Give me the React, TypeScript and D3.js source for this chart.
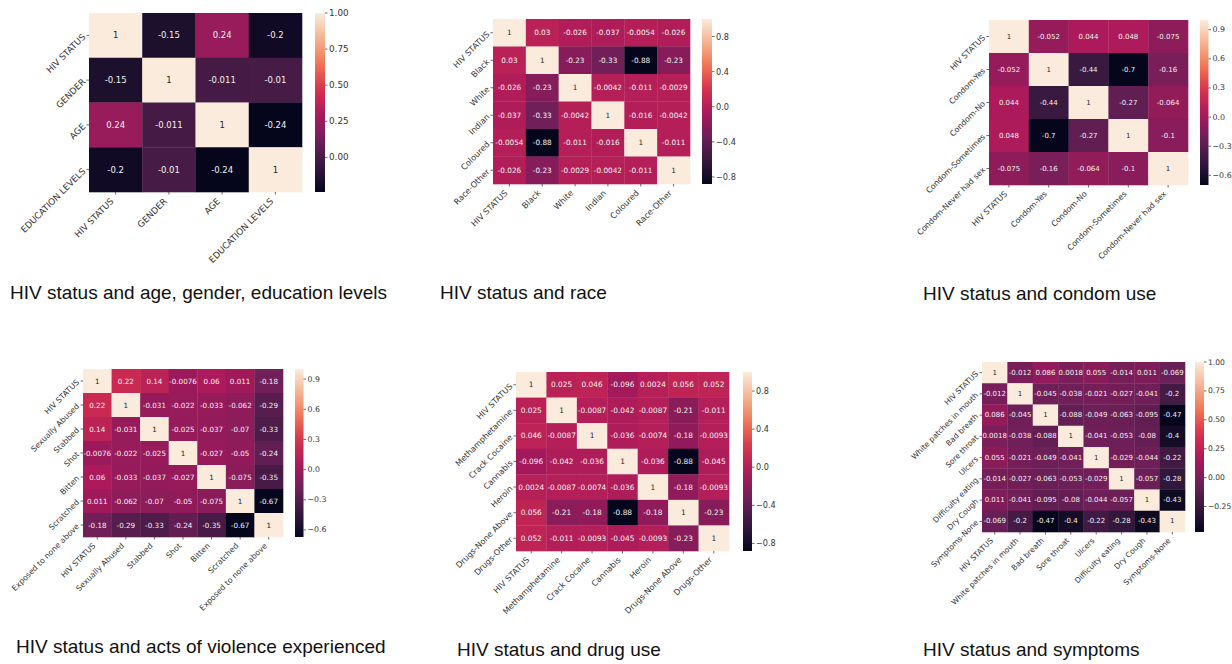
import React from "react";
import * as d3 from "d3";

// --- data ---
const labelsBasic = ["HIV STATUS", "GENDER", "AGE", "EDUCATION LEVELS"];
const valuesBasic = [
  [1, -0.15, 0.24, -0.2],
  [-0.15, 1, -0.011, -0.01],
  [0.24, -0.011, 1, -0.24],
  [-0.2, -0.01, -0.24, 1],
];
const ticksBasic = [0, 0.25, 0.5, 0.75, 1];

const labelsRace = ["HIV STATUS", "Black", "White", "Indian", "Coloured", "Race-Other"];
const valuesRace = [
  [1, 0.03, -0.026, -0.037, -0.0054, -0.026],
  [0.03, 1, -0.23, -0.33, -0.88, -0.23],
  [-0.026, -0.23, 1, -0.0042, -0.011, -0.0029],
  [-0.037, -0.33, -0.0042, 1, -0.016, -0.0042],
  [-0.0054, -0.88, -0.011, -0.016, 1, -0.011],
  [-0.026, -0.23, -0.0029, -0.0042, -0.011, 1],
];
const ticksRace = [-0.8, -0.4, 0, 0.4, 0.8];

const labelsCondom = ["HIV STATUS", "Condom-Yes", "Condom-No", "Condom-Sometimes", "Condom-Never had sex"];
const valuesCondom = [
  [1, -0.052, 0.044, 0.048, -0.075],
  [-0.052, 1, -0.44, -0.7, -0.16],
  [0.044, -0.44, 1, -0.27, -0.064],
  [0.048, -0.7, -0.27, 1, -0.1],
  [-0.075, -0.16, -0.064, -0.1, 1],
];
const ticksCondom = [-0.6, -0.3, 0, 0.3, 0.6, 0.9];

const labelsViolence = ["HIV STATUS", "Sexually Abused", "Stabbed", "Shot", "Bitten", "Scratched", "Exposed to none above"];
const valuesViolence = [
  [1, 0.22, 0.14, -0.0076, 0.06, 0.011, -0.18],
  [0.22, 1, -0.031, -0.022, -0.033, -0.062, -0.29],
  [0.14, -0.031, 1, -0.025, -0.037, -0.07, -0.33],
  [-0.0076, -0.022, -0.025, 1, -0.027, -0.05, -0.24],
  [0.06, -0.033, -0.037, -0.027, 1, -0.075, -0.35],
  [0.011, -0.062, -0.07, -0.05, -0.075, 1, -0.67],
  [-0.18, -0.29, -0.33, -0.24, -0.35, -0.67, 1],
];
const ticksViolence = [-0.6, -0.3, 0, 0.3, 0.6, 0.9];

const labelsDrugs = ["HIV STATUS", "Methamphetamine", "Crack Cocaine", "Cannabis", "Heroin", "Drugs-None Above", "Drugs-Other"];
const valuesDrugs = [
  [1, 0.025, 0.046, -0.096, 0.0024, 0.056, 0.052],
  [0.025, 1, -0.0087, -0.042, -0.0087, -0.21, -0.011],
  [0.046, -0.0087, 1, -0.036, -0.0074, -0.18, -0.0093],
  [-0.096, -0.042, -0.036, 1, -0.036, -0.88, -0.045],
  [0.0024, -0.0087, -0.0074, -0.036, 1, -0.18, -0.0093],
  [0.056, -0.21, -0.18, -0.88, -0.18, 1, -0.23],
  [0.052, -0.011, -0.0093, -0.045, -0.0093, -0.23, 1],
];
const ticksDrugs = [-0.8, -0.4, 0, 0.4, 0.8];

const labelsSymptoms = ["HIV STATUS", "White patches in mouth", "Bad breath", "Sore throat", "Ulcers", "Difficulty eating", "Dry Cough", "Symptoms-None"];
const valuesSymptoms = [
  [1, -0.012, 0.086, 0.0018, 0.055, -0.014, 0.011, -0.069],
  [-0.012, 1, -0.045, -0.038, -0.021, -0.027, -0.041, -0.2],
  [0.086, -0.045, 1, -0.088, -0.049, -0.063, -0.095, -0.47],
  [0.0018, -0.038, -0.088, 1, -0.041, -0.053, -0.08, -0.4],
  [0.055, -0.021, -0.049, -0.041, 1, -0.029, -0.044, -0.22],
  [-0.014, -0.027, -0.063, -0.053, -0.029, 1, -0.057, -0.28],
  [0.011, -0.041, -0.095, -0.08, -0.044, -0.057, 1, -0.43],
  [-0.069, -0.2, -0.47, -0.4, -0.22, -0.28, -0.43, 1],
];
const ticksSymptoms = [-0.25, 0, 0.25, 0.5, 0.75, 1];

const captions = [
  "HIV status and age, gender, education levels",
  "HIV status and race",
  "HIV status and condom use",
  "HIV status and acts of violence experienced",
  "HIV status and drug use",
  "HIV status and symptoms",
];

// "rocket"-like colormap stops, slightly muted like the reference screenshot
const rocket = ["#05061c", "#35193e", "#6d1f58", "#a9195c", "#d6304e", "#ef7352", "#f5b28f", "#faebdd"];

const FONT = "'DejaVu Sans', sans-serif";

// layout for each panel
const panels = [
  { labels: labelsBasic, values: valuesBasic, ticks: ticksBasic, fmt: ".2f", x0: 89, x1: 302, y0: 13, y1: 192, cx: 315, cw: 10, fs: 8.5, ls: 8.8, cap: [10, 299] },
  { labels: labelsRace, values: valuesRace, ticks: ticksRace, fmt: ".1f", x0: 493, x1: 690, y0: 19, y1: 184, cx: 702, cw: 10, fs: 7.3, ls: 8.2, cap: [440, 299] },
  { labels: labelsCondom, values: valuesCondom, ticks: ticksCondom, fmt: ".1f", x0: 989, x1: 1188, y0: 20, y1: 185, cx: 1200, cw: 8.5, fs: 7, ls: 7.9, cap: [923, 300] },
  { labels: labelsViolence, values: valuesViolence, ticks: ticksViolence, fmt: ".1f", x0: 83, x1: 283, y0: 369, y1: 537, cx: 295, cw: 8.5, fs: 7.2, ls: 7.8, cap: [16, 653] },
  { labels: labelsDrugs, values: valuesDrugs, ticks: ticksDrugs, fmt: ".1f", x0: 516, x1: 729, y0: 372, y1: 551, cx: 743, cw: 9, fs: 7.4, ls: 8.1, cap: [457, 656] },
  { labels: labelsSymptoms, values: valuesSymptoms, ticks: ticksSymptoms, fmt: ".2f", x0: 982, x1: 1185, y0: 362, y1: 532, cx: 1195, cw: 9, fs: 7, ls: 7.6, cap: [923, 656] },
];

function luminance(c: string) {
  const rgb = d3.rgb(c);
  const lin = (v: number) => {
    const s = v / 255;
    return s <= 0.03928 ? s / 12.92 : Math.pow((s + 0.055) / 1.055, 2.4);
  };
  return 0.2126 * lin(rgb.r) + 0.7152 * lin(rgb.g) + 0.0722 * lin(rgb.b);
}

function Heatmap({ p, idx }: { p: any; idx: number }) {
  const n = p.labels.length;
  const flat = p.values.flat();
  const vmin = d3.min(flat) as number;
  const vmax = d3.max(flat) as number;
  const color = d3
    .scaleLinear<string>()
    .domain(rocket.map((_, i) => vmin + ((vmax - vmin) * i) / (rocket.length - 1)))
    .range(rocket)
    .interpolate(d3.interpolateRgb);

  const x = d3.scaleBand<number>().domain(d3.range(n)).range([p.x0, p.x1]);
  const y = d3.scaleBand<number>().domain(d3.range(n)).range([p.y0, p.y1]);
  const cy = d3.scaleLinear().domain([vmin, vmax]).range([p.y1, p.y0]);
  const fmt = d3.format(p.fmt);
  const fs = p.fs;
  const ls = p.ls;
  const tl = 2.5;
  const pad = 2.5;
  const gid = `cbar${idx}`;

  return (
    <g>
      <defs>
        <linearGradient id={gid} x1="0" y1="1" x2="0" y2="0">
          {d3.range(0, 1.0001, 0.05).map((t) => (
            <stop key={t} offset={t} stopColor={color(vmin + t * (vmax - vmin))} />
          ))}
        </linearGradient>
      </defs>
      {p.values.map((row: number[], i: number) =>
        row.map((v: number, j: number) => {
          const c = color(v);
          return (
            <g key={`${i}-${j}`}>
              <rect x={x(j)} y={y(i)} width={x.bandwidth() + 0.3} height={y.bandwidth() + 0.3} fill={c} />
              <text
                x={(x(j) as number) + x.bandwidth() / 2}
                y={(y(i) as number) + y.bandwidth() / 2}
                textAnchor="middle"
                dominantBaseline="central"
                fontSize={fs}
                fontFamily={FONT}
                fill={luminance(c) > 0.408 ? "#262626" : "#f2f2f2"}
              >
                {String(v)}
              </text>
            </g>
          );
        })
      )}
      {/* y axis */}
      {p.labels.map((lab: string, i: number) => {
        const ty = (y(i) as number) + y.bandwidth() / 2;
        return (
          <g key={`y${i}`}>
            <line x1={p.x0 - tl} x2={p.x0} y1={ty} y2={ty} stroke="#444" strokeWidth={0.8} />
            <text
              transform={`translate(${p.x0 - tl - pad},${ty}) rotate(-45)`}
              textAnchor="end"
              dominantBaseline="central"
              fontSize={ls}
              fontFamily={FONT}
              fill="#333"
            >
              {lab}
            </text>
          </g>
        );
      })}
      {/* x axis */}
      {p.labels.map((lab: string, j: number) => {
        const tx = (x(j) as number) + x.bandwidth() / 2;
        return (
          <g key={`x${j}`}>
            <line x1={tx} x2={tx} y1={p.y1} y2={p.y1 + tl} stroke="#444" strokeWidth={0.8} />
            <text
              transform={`translate(${tx - 0.15 * ls},${p.y1 + tl + pad + 0.55 * ls}) rotate(-45)`}
              textAnchor="end"
              fontSize={ls}
              fontFamily={FONT}
              fill="#333"
            >
              {lab}
            </text>
          </g>
        );
      })}
      {/* colorbar */}
      <rect x={p.cx} y={p.y0} width={p.cw} height={p.y1 - p.y0} fill={`url(#${gid})`} />
      {p.ticks.map((t: number) => (
        <g key={`c${t}`}>
          <line x1={p.cx + p.cw} x2={p.cx + p.cw + tl} y1={cy(t)} y2={cy(t)} stroke="#444" strokeWidth={0.8} />
          <text
            x={p.cx + p.cw + tl + pad - 1}
            y={cy(t)}
            dominantBaseline="central"
            fontSize={ls}
            fontFamily={FONT}
            fill="#333"
          >
            {fmt(t)}
          </text>
        </g>
      ))}
      <text
        x={p.cap[0]}
        y={p.cap[1]}
        fontSize={19}
        fontFamily="'Liberation Sans', Arial, sans-serif"
        fill="#111"
      >
        {captions[idx]}
      </text>
    </g>
  );
}

export default function App() {
  return (
    <div>
      <style>{"body{margin:0;background:#fff}"}</style>
      <svg width={1232} height={664} style={{ display: "block" }}>
        <rect width={1232} height={664} fill="#fff" />
        {panels.map((p, i) => (
          <Heatmap key={i} p={p} idx={i} />
        ))}
      </svg>
    </div>
  );
}
